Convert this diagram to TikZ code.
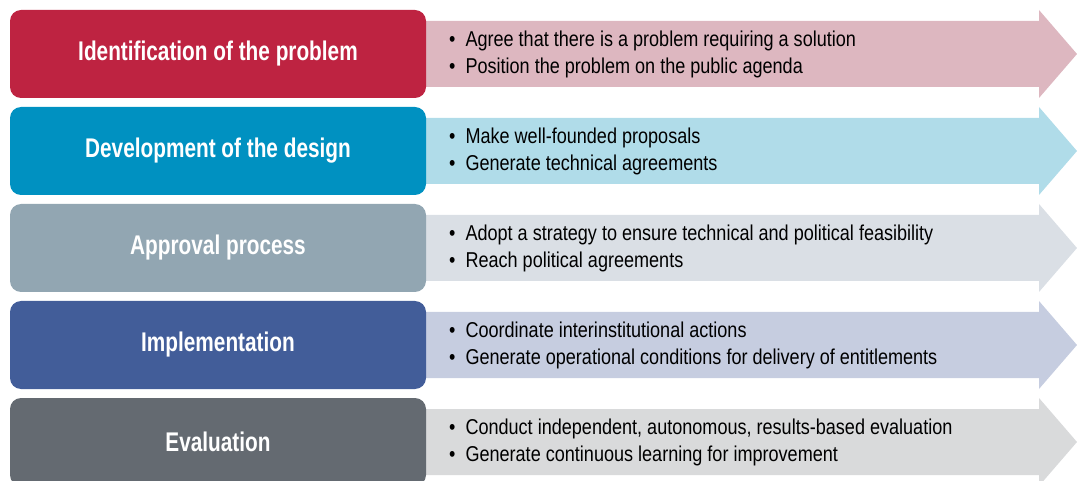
\documentclass[tikz,border=0pt]{standalone}
\usepackage{fontspec}
\setmainfont{Liberation Sans}
\newfontfamily\headfont{Liberation Sans}[FakeStretch=0.77]
\newfontfamily\itemfont{Liberation Sans}[FakeStretch=0.84]
\usepackage{xcolor}
\usepackage{tikz}
\usetikzlibrary{positioning,calc}

\definecolor{redA}{HTML}{BE2341}  \definecolor{redB}{HTML}{DDB7C0}
\definecolor{tealA}{HTML}{0091C1} \definecolor{tealB}{HTML}{B0DCE9}
\definecolor{greyA}{HTML}{92A6B2} \definecolor{greyB}{HTML}{DADFE5}
\definecolor{navyA}{HTML}{425D99} \definecolor{navyB}{HTML}{C6CDE0}
\definecolor{slateA}{HTML}{646A71}\definecolor{slateB}{HTML}{D9DADB}

\begin{document}
\begin{tikzpicture}[
  x=1pt, y=-1pt,
  stage/.style={rounded corners=11pt,minimum width=416pt,minimum height=88pt,
                inner sep=0pt,text=white,font=\headfont\bfseries\fontsize{27}{30}\selectfont},
  items/.style={anchor=west,align=left,inner sep=0pt,
                font=\itemfont\fontsize{21.5}{27}\selectfont},
  band/.style={draw=none}
]
\useasboundingbox (0,0) rectangle (1077,481);

% one row per stage: arrow band behind, rounded box in front
\foreach \i/\ca/\cb/\head/\one/\two in {
  0/redA/redB/{Identification of the problem}/{Agree that there is a problem requiring a solution}/{Position the problem on the public agenda},
  1/tealA/tealB/{Development of the design}/{Make well-founded proposals}/{Generate technical agreements},
  2/greyA/greyB/{Approval process}/{Adopt a strategy to ensure technical and political feasibility}/{Reach political agreements},
  3/navyA/navyB/{Implementation}/{Coordinate interinstitutional actions}/{Generate operational conditions for delivery of entitlements},
  4/slateA/slateB/{Evaluation}/{Conduct independent, autonomous, results-based evaluation}/{Generate continuous learning for improvement}}
{
  \pgfmathsetmacro{\ytop}{10+97*\i}
  \fill[band,\cb] (413,\ytop+11) -- (1039,\ytop+11) -- (1039,\ytop)
        -- (1077,\ytop+44) -- (1039,\ytop+88) -- (1039,\ytop+77)
        -- (413,\ytop+77) -- cycle;
  \node[stage,fill=\ca] (st\i) at (218,\ytop+44) {\head};
  \node[items] (it\i) at (449,\ytop+44)
    {\textbullet\hspace{10pt}\one\\\textbullet\hspace{10pt}\two};
}
\end{tikzpicture}
\end{document}
